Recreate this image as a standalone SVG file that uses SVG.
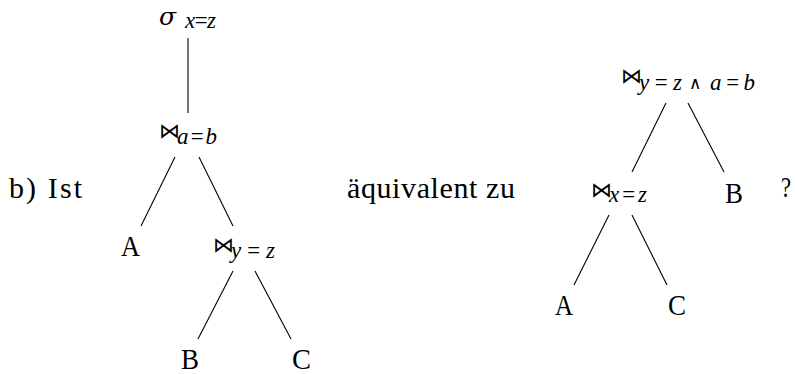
<svg xmlns="http://www.w3.org/2000/svg" width="795" height="374" viewBox="0 0 795 374">
<style>
.t{font-family:"Liberation Serif","DejaVu Serif",serif;font-size:30px;fill:#000}
.s{font-family:"Liberation Serif","DejaVu Serif",serif;font-size:23px;font-style:italic}
.u{font-family:"DejaVu Serif",serif;font-size:17px;font-style:normal}
.j{font-family:"DejaVu Sans",sans-serif;font-size:21px;font-style:normal}
.g{font-family:"DejaVu Serif",serif;font-size:25px;font-style:italic;fill:#000}
.e{stroke:#000;stroke-width:1.1;fill:none}
</style>
<rect width="795" height="374" fill="#fff"/>
<g id="connectors">
<line class="e" x1="188" y1="38" x2="188" y2="113"/>
<line class="e" x1="175" y1="157" x2="141" y2="226"/>
<line class="e" x1="199" y1="157" x2="233" y2="226"/>
<line class="e" x1="233" y1="271" x2="198" y2="339"/>
<line class="e" x1="255" y1="271" x2="291" y2="339"/>
<line class="e" x1="666" y1="103" x2="632" y2="172"/>
<line class="e" x1="688" y1="103" x2="724" y2="172"/>
<line class="e" x1="609" y1="215" x2="574" y2="285"/>
<line class="e" x1="632" y1="215" x2="667" y2="285"/>
</g>
<g id="sigma">
<text class="g" x="159" y="25"><tspan>σ</tspan><tspan class="s" x="185" y="28" textLength="31" lengthAdjust="spacing">x=z</tspan></text>
</g>
<g id="join-ab">
<text class="t" x="159" y="138"><tspan class="j">⋈</tspan><tspan class="s" x="177" y="144" textLength="40" lengthAdjust="spacing">a=b</tspan></text>
</g>
<g id="left-A"><text class="t" x="121" y="256" textLength="19" lengthAdjust="spacingAndGlyphs">A</text></g>
<g id="join-yz">
<text class="t" x="213" y="252"><tspan class="j">⋈</tspan><tspan class="s" x="231" y="258" textLength="44" lengthAdjust="spacing">y=z</tspan></text>
</g>
<g id="left-B"><text class="t" x="181" y="369" textLength="18" lengthAdjust="spacingAndGlyphs">B</text></g>
<g id="left-C"><text class="t" x="292" y="369" textLength="19" lengthAdjust="spacingAndGlyphs">C</text></g>
<g id="label-b"><text class="t" x="9" y="198" textLength="73" lengthAdjust="spacing">b)  Ist</text></g>
<g id="label-aequ"><text class="t" x="347" y="198" textLength="168" lengthAdjust="spacing">äquivalent zu</text></g>
<g id="join-top">
<text class="t" x="621" y="83"><tspan class="j">⋈</tspan><tspan class="s" x="639" y="90" textLength="43" lengthAdjust="spacing">y=z</tspan><tspan class="u" x="689" y="89">∧</tspan><tspan class="s" x="710" y="90" textLength="45" lengthAdjust="spacing">a=b</tspan></text>
</g>
<g id="join-xz">
<text class="t" x="591" y="197"><tspan class="j">⋈</tspan><tspan class="s" x="609" y="202" textLength="38" lengthAdjust="spacing">x=z</tspan></text>
</g>
<g id="right-B"><text class="t" x="725" y="203" textLength="18" lengthAdjust="spacingAndGlyphs">B</text></g>
<g id="question"><text class="t" x="781" y="197" textLength="10" lengthAdjust="spacingAndGlyphs">?</text></g>
<g id="right-A"><text class="t" x="555" y="315" textLength="18" lengthAdjust="spacingAndGlyphs">A</text></g>
<g id="right-C"><text class="t" x="668" y="315" textLength="18" lengthAdjust="spacingAndGlyphs">C</text></g>
</svg>
